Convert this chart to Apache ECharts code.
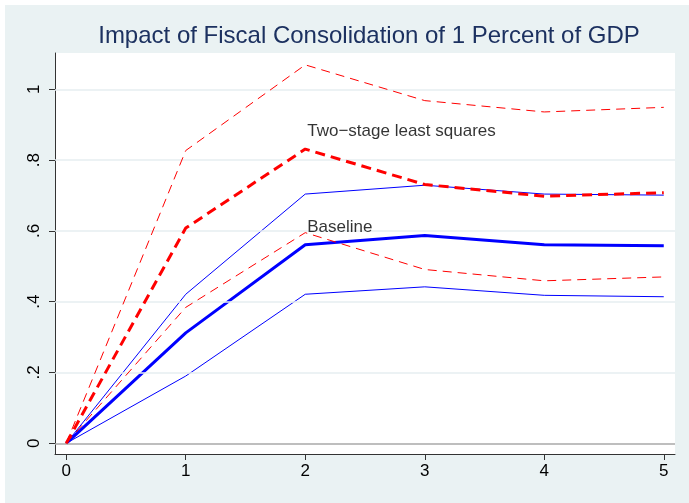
<!DOCTYPE html>
<html>
<head>
<meta charset="utf-8">
<style>
  html, body { margin: 0; padding: 0; background: #ffffff; }
  #chart { width: 689px; height: 503px; }
</style>
<script src="https://cdn.jsdelivr.net/npm/echarts@6/dist/echarts.min.js"></script>
</head>
<body>
<div id="chart"></div>
<script>
// Horizon (years after consolidation)
const steps = [0, 1, 2, 3, 4, 5];

// Baseline estimate with its confidence band
const baseline      = [0, 0.312, 0.561, 0.587, 0.561, 0.558];
const baselineUpper = [0, 0.421, 0.704, 0.729, 0.704, 0.701];
const baselineLower = [0, 0.190, 0.421, 0.442, 0.418, 0.414];

// Two-stage least squares estimate with its confidence band
const tsls      = [0, 0.608, 0.831, 0.731, 0.698, 0.708];
const tslsUpper = [0, 0.827, 1.069, 0.968, 0.936, 0.949];
const tslsLower = [0, 0.384, 0.595, 0.491, 0.459, 0.470];

// Axis ticks
const xTicks = [0, 1, 2, 3, 4, 5];
const yTicks = [0, 0.2, 0.4, 0.6, 0.8, 1];
const yTickLabels = ['0', '.2', '.4', '.6', '.8', '1'];

// In-plot annotations: [x, y, text]
const notes = [
  [2, 0.880, 'Two\u2212stage least squares'],
  [2, 0.610, 'Baseline']
];

const pairs = ys => steps.map((x, i) => [x, ys[i]]);

const BLUE = '#0000ff';
const RED = '#ff0000';
const FONT = 'Liberation Sans, Arial, Helvetica, sans-serif';

function line(name, ys, color, width, dash, z) {
  return {
    name, type: 'line', data: pairs(ys), symbol: 'none', z,
    lineStyle: { color, width, type: dash || 'solid', cap: 'butt' },
    silent: true, animation: false
  };
}

const chart = echarts.init(document.getElementById('chart'), null, { renderer: 'canvas' });

chart.setOption({
  animation: false,
  backgroundColor: '#ffffff',
  graphic: [{
    type: 'rect', left: 5, top: 5, z: -10,
    shape: { width: 684, height: 498 },
    style: { fill: '#eaf2f3' }
  }],
  title: {
    text: 'Impact of Fiscal Consolidation of 1 Percent of GDP',
    left: 364, top: 19, textAlign: 'center',
    textStyle: { color: '#1c3160', fontFamily: FONT, fontSize: 24, fontWeight: 'normal' }
  },
  grid: {
    left: 55, top: 53, width: 620, height: 401,
    show: true, backgroundColor: '#ffffff', borderWidth: 0,
    containLabel: false
  },
  xAxis: {
    type: 'value', min: -0.094, max: 5.094,
    axisLine: { show: true, onZero: false, lineStyle: { color: '#333333', width: 1 } },
    axisTick: { show: true, length: 6, customValues: xTicks, lineStyle: { color: '#333333' } },
    axisLabel: {
      customValues: xTicks, margin: 9,
      color: '#000000', fontFamily: FONT, fontSize: 17,
      formatter: v => String(Math.round(v))
    },
    splitLine: { show: false }
  },
  yAxis: {
    type: 'value', min: -0.0302, max: 1.1025,
    axisLine: { show: true, onZero: false, lineStyle: { color: '#333333', width: 1 } },
    axisTick: { show: true, length: 6, customValues: yTicks, lineStyle: { color: '#333333' } },
    axisLabel: {
      customValues: yTicks, margin: 12, rotate: 90,
      color: '#000000', fontFamily: FONT, fontSize: 17,
      formatter: v => {
        const i = yTicks.findIndex(t => Math.abs(t - v) < 1e-6);
        return i >= 0 ? yTickLabels[i] : '';
      }
    },
    splitLine: { show: false }
  },
  series: [
    {
      // horizontal grid lines and the zero line
      type: 'line', data: [], silent: true, z: 1,
      markLine: {
        silent: true, symbol: 'none', animation: false,
        label: { show: false },
        data: yTicks.map(v => ({
          yAxis: v,
          lineStyle: v === 0
            ? { color: '#a8a8a8', width: 1.6, type: 'solid' }
            : { color: '#e6eef1', width: 1.6, type: 'solid' }
        }))
      }
    },
    line('Baseline upper', baselineUpper, BLUE, 1, 'solid', 3),
    line('Baseline lower', baselineLower, BLUE, 1, 'solid', 3),
    line('Baseline', baseline, BLUE, 3, 'solid', 4),
    line('2SLS upper', tslsUpper, RED, 1, [9, 6], 5),
    line('2SLS lower', tslsLower, RED, 1, [9, 6], 5),
    line('Two-stage least squares', tsls, RED, 3, [10, 6], 6),
    {
      type: 'scatter', symbolSize: 0, silent: true, z: 7,
      data: notes.map(n => ({ value: [n[0], n[1]], name: n[2] })),
      label: {
        show: true, position: 'right', distance: 2,
        formatter: p => p.name,
        color: '#000000', fontFamily: FONT, fontSize: 17
      }
    }
  ]
});
</script>
</body>
</html>
